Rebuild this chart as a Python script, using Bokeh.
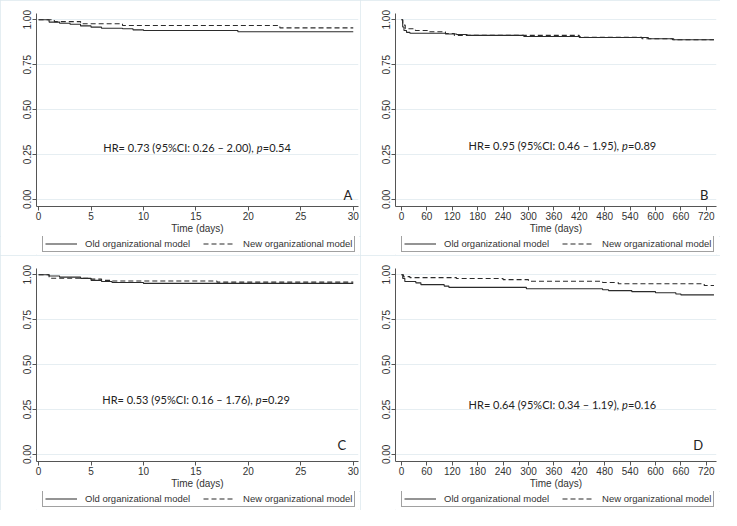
from bokeh.plotting import figure
from bokeh.layouts import column, row
from bokeh.models import (Legend, LegendItem, Label, FixedTicker, NumeralTickFormatter, Range1d)
from bokeh.embed import file_html
from bokeh.resources import INLINE

# ---------------- data ----------------
A_old_t = [0, 1, 2, 3, 4, 5, 6, 8, 9, 10, 19, 30]
A_old_s = [1.0, 0.987, 0.981, 0.975, 0.966, 0.959, 0.953, 0.95, 0.944, 0.94, 0.933, 0.933]
A_new_t = [0, 1.5, 4, 8, 23, 30]
A_new_s = [1.0, 0.99, 0.978, 0.968, 0.955, 0.955]

B_old_t = [0, 3, 6, 12, 20, 104, 130, 155, 289, 422, 583, 643, 738]
B_old_s = [1.0, 0.96, 0.94, 0.93, 0.925, 0.921, 0.918, 0.913, 0.907, 0.901, 0.894, 0.889, 0.889]
B_new_t = [0, 3, 9, 33, 64, 104, 125, 420, 568, 640, 738]
B_new_s = [1.0, 0.97, 0.95, 0.94, 0.933, 0.924, 0.913, 0.902, 0.894, 0.889, 0.889]

C_old_t = [0, 1, 2, 4, 5, 6, 7, 10, 30]
C_old_s = [1.0, 0.993, 0.987, 0.98, 0.969, 0.963, 0.957, 0.952, 0.952]
C_new_t = [0, 1, 5, 6, 7, 17, 30]
C_new_s = [1.0, 0.981, 0.976, 0.969, 0.965, 0.959, 0.959]

D_old_t = [0, 3, 8, 34, 46, 101, 112, 295, 475, 489, 544, 600, 648, 660, 738]
D_old_s = [1.0, 0.98, 0.963, 0.955, 0.945, 0.937, 0.93, 0.922, 0.917, 0.912, 0.906, 0.9, 0.893, 0.888, 0.888]
D_new_t = [0, 5, 20, 130, 240, 300, 475, 512, 715, 738]
D_new_s = [1.0, 0.99, 0.984, 0.979, 0.973, 0.964, 0.957, 0.95, 0.94, 0.94]

ticks_30 = [0, 5, 10, 15, 20, 25, 30]
ticks_720 = [0, 60, 120, 180, 240, 300, 360, 420, 480, 540, 600, 660, 720]
y_ticks = [0, 0.25, 0.5, 0.75, 1.0]

hr_texts = ["HR= 0.73 (95%CI: 0.26 \u2013 2.00),", "HR= 0.95 (95%CI: 0.46 \u2013 1.95),",
            "HR= 0.53 (95%CI: 0.16 \u2013 1.76),", "HR= 0.64 (95%CI: 0.34 \u2013 1.19),"]
p_values = ["=0.54", "=0.89", "=0.29", "=0.16"]
panel_letters = ["A", "B", "C", "D"]
legend_labels = ["Old organizational model", "New organizational model"]
x_title = "Time (days)"

INK = "#333333"
AXC = "#555555"
LINE = "#2b2b2b"
DASH = "5 3"


def make_panel(old_t, old_s, new_t, new_s, xr, xticks, hr, pv, letter, p_anchor, hr_y, let_xy,
               border_left, border_right):
    p = figure(width=360, height=236, output_backend="svg", toolbar_location=None,
               x_range=Range1d(*xr), y_range=Range1d(-0.04, 1.035),
               min_border_left=border_left, min_border_right=border_right,
               min_border_top=13, min_border_bottom=0)
    p.outline_line_color = None

    p.step(old_t, old_s, mode="after", line_color=LINE, line_width=1.1)
    p.step(new_t, new_s, mode="after", line_color=LINE, line_width=1.1, line_dash=DASH)

    for ax in (p.xaxis[0], p.yaxis[0]):
        ax.axis_line_color = AXC
        ax.major_tick_line_color = AXC
        ax.major_tick_out = 4
        ax.major_tick_in = 0
        ax.minor_tick_line_color = None
        ax.major_label_text_font = "Liberation Sans"
        ax.major_label_text_font_size = "10px"
        ax.major_label_text_color = INK
        ax.major_label_standoff = 1
    p.xaxis.ticker = FixedTicker(ticks=xticks)
    p.yaxis.ticker = FixedTicker(ticks=y_ticks)
    p.yaxis.formatter = NumeralTickFormatter(format="0.00")
    p.yaxis.major_label_orientation = "vertical"
    p.xaxis.axis_label = x_title
    p.xaxis.axis_label_text_font = "Liberation Sans"
    p.xaxis.axis_label_text_font_size = "10px"
    p.xaxis.axis_label_text_font_style = "normal"
    p.xaxis.axis_label_text_color = INK
    p.xaxis.axis_label_standoff = 0

    p.xgrid.grid_line_color = None
    p.ygrid.grid_line_color = "#e6eef2"

    # HR annotation, with italic p
    p.add_layout(Label(x=p_anchor, y=hr_y, text=hr, text_align="right", x_offset=-3,
                       text_baseline="middle", text_font="Lato", text_font_size="11px",
                       text_color="#222222"))
    p.add_layout(Label(x=p_anchor, y=hr_y, text="p", text_align="left",
                       text_baseline="middle", text_font="Lato", text_font_size="11px",
                       text_font_style="italic", text_color="#222222"))
    p.add_layout(Label(x=p_anchor, y=hr_y, text=pv, text_align="left", x_offset=6,
                       text_baseline="middle", text_font="Lato", text_font_size="11px",
                       text_color="#222222"))
    p.add_layout(Label(x=let_xy[0], y=let_xy[1], text=letter, text_align="center",
                       text_baseline="middle", text_font="Lato", text_font_size="13px",
                       text_color="#222222"))

    # legend strip below the axis
    lg = figure(width=360, height=19, output_backend="svg", toolbar_location=None,
                x_range=Range1d(0, 1), y_range=Range1d(0, 1),
                x_axis_location=None, y_axis_location=None,
                min_border_left=0, min_border_right=0, min_border_top=0, min_border_bottom=0)
    lg.grid.visible = False
    lg.outline_line_color = None
    g_old = lg.line([-5, -4], [-5, -5], line_color=LINE, line_width=1.1)
    g_new = lg.line([-5, -4], [-5, -5], line_color=LINE, line_width=1.1, line_dash=DASH)
    legend = Legend(items=[LegendItem(label=legend_labels[0], renderers=[g_old]),
                           LegendItem(label=legend_labels[1], renderers=[g_new])],
                    orientation="horizontal", location=(6, 3))
    legend.label_text_font = "Liberation Sans"
    legend.label_text_font_size = "9.5px"
    legend.label_text_color = INK
    legend.border_line_color = "#444444"
    legend.border_line_width = 1
    legend.padding = 2
    legend.margin = 0
    legend.spacing = 13
    legend.glyph_width = 32
    legend.glyph_height = 11
    legend.label_standoff = 8
    legend.background_fill_alpha = 1
    lg.add_layout(legend)

    col = column(p, lg, spacing=0)
    col.styles = {"outline": "1px solid #dde8ee", "outline-offset": "-1px"}
    return col


pA = make_panel(A_old_t, A_old_s, A_new_t, A_new_s, (-0.2, 30.5), ticks_30,
                hr_texts[0], p_values[0], panel_letters[0], 20.8, 0.29, (29.5, 0.025), 36, 2)
pB = make_panel(B_old_t, B_old_s, B_new_t, B_new_s, (-14, 744), ticks_720,
                hr_texts[1], p_values[1], panel_letters[1], 521, 0.30, (715, 0.025), 35, 4)
pC = make_panel(C_old_t, C_old_s, C_new_t, C_new_s, (-0.2, 30.5), ticks_30,
                hr_texts[2], p_values[2], panel_letters[2], 20.7, 0.305, (28.9, 0.05), 36, 2)
pD = make_panel(D_old_t, D_old_s, D_new_t, D_new_s, (-14, 744), ticks_720,
                hr_texts[3], p_values[3], panel_letters[3], 521, 0.28, (701, 0.05), 35, 4)

layout = column(row(pA, pB, spacing=0), row(pC, pD, spacing=0), spacing=0)

open("out.html", "w").write(file_html(layout, INLINE))
